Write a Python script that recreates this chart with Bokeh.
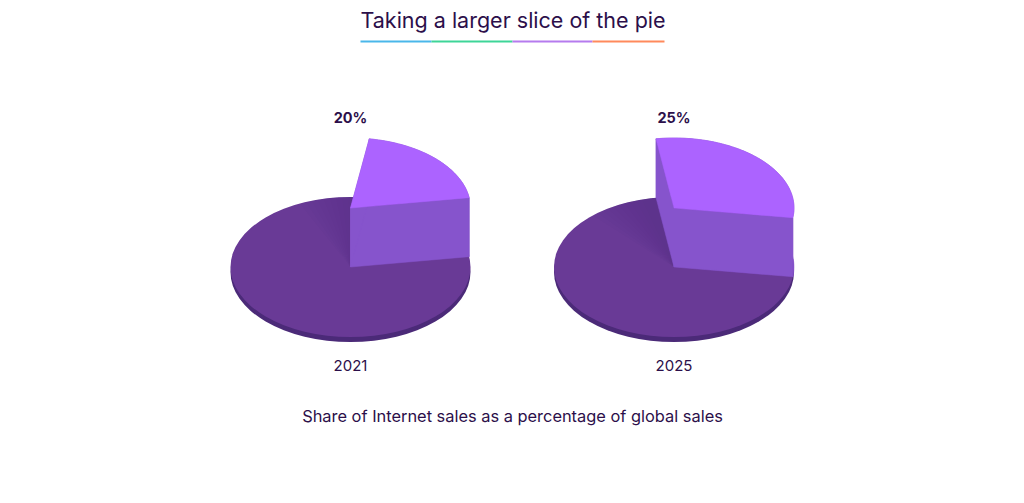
import numpy as np
from bokeh.core.properties import value
from bokeh.embed import file_html
from bokeh.models import Range1d
from bokeh.plotting import figure
from bokeh.resources import INLINE

title = "Taking a larger slice of the pie"
caption = "Share of Internet sales as a percentage of global sales"
years = ["2021", "2025"]
shares = [20, 25]
# slice edges as drawn in the picture, degrees on the flattened disc
slice_start = [8.5, -8.0]
slice_end = [81.0, 98.6]
rule_colours = ["#4ab7ea", "#3ed598", "#b57bee", "#ff8a5c"]
rule_stops = [360, 431, 512, 592, 664]

W, H = 1008, 487
p = figure(width=W, height=H, output_backend="svg", toolbar_location=None,
           x_range=Range1d(0, W), y_range=Range1d(H, 0),
           min_border=0, outline_line_color=None, background_fill_color="white",
           border_fill_color="white")
p.xaxis.visible = False
p.yaxis.visible = False
p.grid.visible = False

INK = "#2c0f4a"
FONT = value("Inter")
centres = [350.0, 673.5]
CY, RX, RY, LIFT, RIM = 266.5, 120.0, 70.0, 59.0, 5.0
TOP, WALL, DISC, EDGE = "#ac63ff", "#8654cc", "#693a96", "#4b2a78"


def arc(cx, cy, a0, a1, n=80):
    t = np.radians(np.linspace(a0, a1, n))
    return cx + RX * np.cos(t), cy - RY * np.sin(t)


def band(xa, ya, xb, yb, colour):
    p.patch(list(xa) + list(xb[::-1]), list(ya) + list(yb[::-1]),
            fill_color=colour, line_color=colour, line_width=0.5)


for cx, share, a0, a1, year in zip(centres, shares, slice_start, slice_end, years):
    p.ellipse([cx], [CY + RIM], width=2 * RX, height=2 * RY, fill_color=EDGE, line_color=None)
    p.ellipse([cx], [CY], width=2 * RX, height=2 * RY, fill_color=DISC, line_color=None)
    # soft shade cast by the raised slice on the disc, fading away from it
    for step in range(1, 11):
        xs, ys = arc(cx, CY, a1 - 10, a1 + 4 + 3.0 * step)
        p.patch([cx] + list(xs), [CY] + list(ys), fill_color="#3a1d63", fill_alpha=0.02,
                line_color=None)
    top = CY - LIFT
    xa, ya = arc(cx, top, a0, a1)
    xb, yb = arc(cx, CY, a0, a1)
    band(xa, ya, xb, yb, WALL)
    band([cx, xa[0]], [top, ya[0]], [cx, xb[0]], [CY, yb[0]], WALL)
    band([cx, xa[-1]], [top, ya[-1]], [cx, xb[-1]], [CY, yb[-1]], WALL)
    p.patch([cx] + list(xa), [top] + list(ya), fill_color=TOP, line_color=TOP, line_width=0.5)
    p.text([cx], [117], text=[f"{share}%"], text_align="center", text_baseline="middle",
           text_font=FONT, text_font_size="14.5px", text_font_style="bold", text_color=INK)
    p.text([cx], [365], text=[year], text_align="center", text_baseline="middle",
           text_font=FONT, text_font_size="15px", text_color=INK)

p.text([512.5], [19.5], text=[title], text_align="center", text_baseline="middle",
       text_font=FONT, text_font_size="21.5px", text_color=INK)
p.text([512], [415], text=[caption], text_align="center", text_baseline="middle",
       text_font=FONT, text_font_size="16.4px", text_color=INK)
p.segment(rule_stops[:-1], [41] * 4, rule_stops[1:], [41] * 4, line_color=rule_colours, line_width=2)

open("out.html", "w").write(file_html(p, INLINE))
